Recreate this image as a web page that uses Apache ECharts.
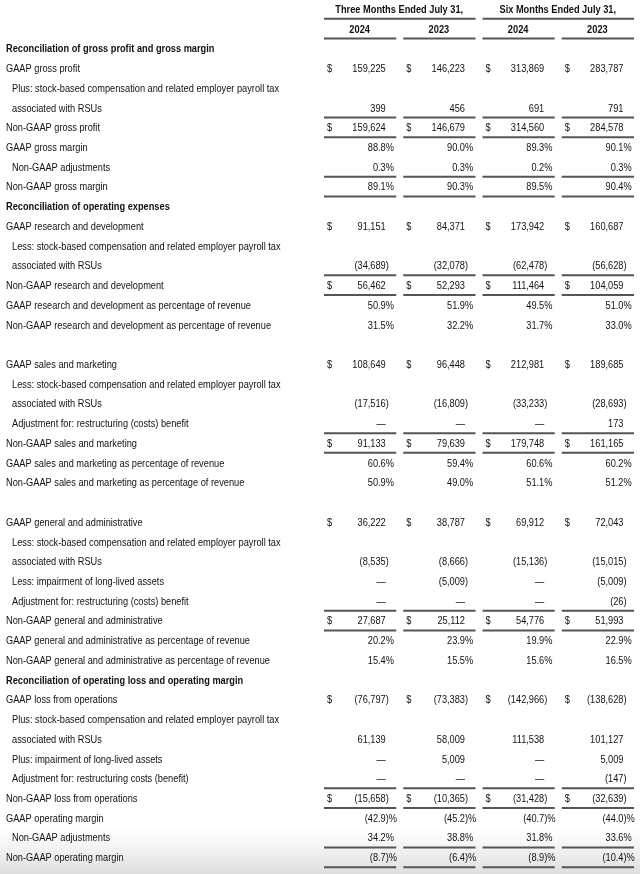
<!DOCTYPE html>
<html>
<head>
<meta charset="utf-8">
<script src="https://cdn.jsdelivr.net/npm/echarts@6/dist/echarts.min.js"></script>
<style>html,body{margin:0;padding:0;background:#fff}#c{width:640px;height:874px}</style>
</head>
<body>
<div id="c"></div>
<script>
// ---------- DATA ----------
const periodHeaders = ["Three Months Ended July 31,", "Six Months Ended July 31,"];
const yearHeaders = ["2024", "2023", "2024", "2023"];

const rowLabels = [
  "", "",
  "Reconciliation of gross profit and gross margin",
  "GAAP gross profit",
  "Plus: stock-based compensation and related employer payroll tax",
  "associated with RSUs",
  "Non-GAAP gross profit",
  "GAAP gross margin",
  "Non-GAAP adjustments",
  "Non-GAAP gross margin",
  "Reconciliation of operating expenses",
  "GAAP research and development",
  "Less: stock-based compensation and related employer payroll tax",
  "associated with RSUs",
  "Non-GAAP research and development",
  "GAAP research and development as percentage of revenue",
  "Non-GAAP research and development as percentage of revenue",
  "",
  "GAAP sales and marketing",
  "Less: stock-based compensation and related employer payroll tax",
  "associated with RSUs",
  "Adjustment for: restructuring (costs) benefit",
  "Non-GAAP sales and marketing",
  "GAAP sales and marketing as percentage of revenue",
  "Non-GAAP sales and marketing as percentage of revenue",
  "",
  "GAAP general and administrative",
  "Less: stock-based compensation and related employer payroll tax",
  "associated with RSUs",
  "Less: impairment of long-lived assets",
  "Adjustment for: restructuring (costs) benefit",
  "Non-GAAP general and administrative",
  "GAAP general and administrative as percentage of revenue",
  "Non-GAAP general and administrative as percentage of revenue",
  "Reconciliation of operating loss and operating margin",
  "GAAP loss from operations",
  "Plus: stock-based compensation and related employer payroll tax",
  "associated with RSUs",
  "Plus: impairment of long-lived assets",
  "Adjustment for: restructuring costs (benefit)",
  "Non-GAAP loss from operations",
  "GAAP operating margin",
  "Non-GAAP adjustments",
  "Non-GAAP operating margin"
];

const boldRows = [2, 10, 34];
const indentRows = [4, 5, 8, 12, 13, 19, 20, 21, 27, 28, 29, 30, 36, 37, 38, 39, 42];
const dollarRows = [3, 6, 11, 14, 18, 22, 26, 31, 35, 40];
const percentRows = [7, 8, 9, 15, 16, 23, 24, 32, 33, 41, 42, 43];
const underlineRows = [5, 6, 8, 9, 13, 14, 21, 22, 30, 31, 39, 40, 42, 43];

// values indexed by row (null = blank, 0 = dash)
const N = null;
const threeMonths2024 = [N,N,N,159225,N,399,159624,88.8,0.3,89.1,N,91151,N,-34689,56462,50.9,31.5,N,108649,N,-17516,0,91133,60.6,50.9,N,36222,N,-8535,0,0,27687,20.2,15.4,N,-76797,N,61139,0,0,-15658,-42.9,34.2,-8.7];
const threeMonths2023 = [N,N,N,146223,N,456,146679,90.0,0.3,90.3,N,84371,N,-32078,52293,51.9,32.2,N,96448,N,-16809,0,79639,59.4,49.0,N,38787,N,-8666,-5009,0,25112,23.9,15.5,N,-73383,N,58009,5009,0,-10365,-45.2,38.8,-6.4];
const sixMonths2024 = [N,N,N,313869,N,691,314560,89.3,0.2,89.5,N,173942,N,-62478,111464,49.5,31.7,N,212981,N,-33233,0,179748,60.6,51.1,N,69912,N,-15136,0,0,54776,19.9,15.6,N,-142966,N,111538,0,0,-31428,-40.7,31.8,-8.9];
const sixMonths2023 = [N,N,N,283787,N,791,284578,90.1,0.3,90.4,N,160687,N,-56628,104059,51.0,33.0,N,189685,N,-28693,173,161165,60.2,51.2,N,72043,N,-15015,-5009,-26,51993,22.9,16.5,N,-138628,N,101127,5009,-147,-32639,-44.0,33.6,-10.4];

const valueColumns = [threeMonths2024, threeMonths2023, sixMonths2024, sixMonths2023];

// ---------- BUILD CELLS ----------
const FONT_FAMILY = '"Liberation Sans", Arial, Helvetica, sans-serif';
const TEXT_SCALE_X = 0.84;
const nCols = 8;          // slot 0-3 labels, 4-7 values
const firstValCol = 4;
const cells = [];

rowLabels.forEach((t, r) => {
  if (!t) return;
  let kind = 'label';
  if (boldRows.includes(r)) kind = 'labelBold';
  else if (indentRows.includes(r)) kind = 'labelIndent';
  cells.push({col: 0, row: r, text: t, kind});
});
periodHeaders.forEach((t, i) => cells.push({col: firstValCol + i * 2, row: 0, text: t, kind: 'head'}));
yearHeaders.forEach((t, i) => cells.push({col: firstValCol + i, row: 1, text: t, kind: 'year'}));

valueColumns.forEach((vals, ci) => {
  const col = firstValCol + ci;
  vals.forEach((v, r) => {
    if (v === null) return;
    if (dollarRows.includes(r)) cells.push({col, row: r, text: '$', kind: 'dollar'});
    const isPct = percentRows.includes(r);
    let core, suffix = '';
    if (v === 0 && !isPct) { core = '\u2014'; }
    else {
      const a = Math.abs(v);
      const s = isPct ? a.toFixed(1) : a.toLocaleString('en-US');
      if (v < 0) { core = '(' + s; suffix = ')'; } else { core = s; }
      if (isPct) suffix += '%';
    }
    cells.push({col, row: r, text: core, kind: 'core'});
    if (suffix) cells.push({col, row: r, text: suffix, kind: 'suffix'});
  });
});

const lines = [];
lines.push({col: firstValCol, row: 0, span: 2});
lines.push({col: firstValCol + 2, row: 0, span: 2});
for (let c = 0; c < 4; c++) lines.push({col: firstValCol + c, row: 1, span: 1});
underlineRows.forEach(r => { for (let c = 0; c < 4; c++) lines.push({col: firstValCol + c, row: r, span: 1}); });

// ---------- CHART ----------
const chart = echarts.init(document.getElementById('c'), null, {renderer: 'canvas'});
const xCats = Array.from({length: nCols}, (_, i) => String(i));
const yCats = rowLabels.map((_, i) => String(i));

function textItem(params, api) {
  const c = cells[params.dataIndex];
  const p = api.coord([c.col, c.row]);
  const w = api.size([1, 1])[0];
  let x = p[0], align = 'left', weight = 'normal';
  switch (c.kind) {
    case 'label': x = p[0] - w / 2 + 6; break;
    case 'labelBold': x = p[0] - w / 2 + 6; weight = 'bold'; break;
    case 'labelIndent': x = p[0] - w / 2 + 12; break;
    case 'dollar': x = p[0] - w / 2 + 10; break;
    case 'core': x = p[0] + w / 2 - 10.5; align = 'right'; break;
    case 'suffix': x = p[0] + w / 2 - 10.5; break;
    case 'head': x = p[0] + w / 2 + 3; align = 'center'; weight = 'bold'; break;
    case 'year': x = p[0] + 3; align = 'center'; weight = 'bold'; break;
  }
  return {
    type: 'text',
    x: x, y: p[1], scaleX: TEXT_SCALE_X,
    style: {
      x: 0, y: 0, text: c.text, align, verticalAlign: 'middle',
      fontFamily: FONT_FAMILY, fontSize: 11, fontWeight: weight, fill: '#111'
    }
  };
}

function lineItem(params, api) {
  const l = lines[params.dataIndex];
  const p = api.coord([l.col, l.row]);
  const s = api.size([1, 1]);
  const x0 = p[0] - s[0] / 2 + 7;
  const x1 = p[0] - s[0] / 2 + s[0] * l.span;
  return {
    type: 'rect',
    shape: {x: x0, y: p[1] + 8, width: x1 - x0, height: 2},
    style: {fill: '#555'}
  };
}

chart.setOption({
  animation: false,
  backgroundColor: '#fff',
  graphic: [{
    type: 'rect', z: -10, silent: true,
    shape: {x: 0, y: 828, width: 640, height: 46},
    style: {fill: new echarts.graphic.LinearGradient(0, 0, 0, 1, [
      {offset: 0, color: 'rgba(230,230,230,0)'},
      {offset: 1, color: 'rgba(222,222,222,1)'}
    ])}
  }],
  grid: {left: 0, right: 6, top: 0, bottom: 6},
  xAxis: {type: 'category', data: xCats, show: false},
  yAxis: {type: 'category', data: yCats, inverse: true, show: false},
  series: [
    {type: 'custom', clip: false, renderItem: lineItem, data: lines.map(l => [l.col, l.row]), encode: {x: 0, y: 1}, silent: true},
    {type: 'custom', clip: false, renderItem: textItem, data: cells.map(c => [c.col, c.row]), encode: {x: 0, y: 1}, silent: true}
  ]
});
</script>
</body>
</html>
